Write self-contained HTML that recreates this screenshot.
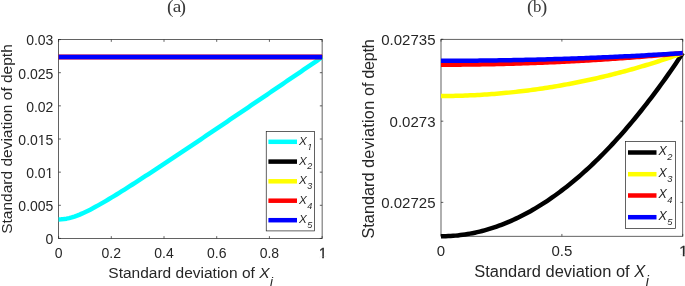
<!DOCTYPE html>
<html><head><meta charset="utf-8"><title>Figure</title>
<style>
html,body{margin:0;padding:0;background:#fff;}
body{width:685px;height:286px;overflow:hidden;}
svg{display:block;}
text{font-family:"Liberation Sans",Arial,Helvetica,sans-serif;fill:#262626;}
.ttl{font-family:"Liberation Serif","Times New Roman",serif;fill:#3a3a3a;}
.it{font-style:italic;}
</style></head><body>
<svg width="685" height="286" viewBox="0 0 685 286">
<rect x="0" y="0" width="685" height="286" fill="#ffffff"/>

<g>
<rect x="58.60" y="39.55" width="263.52" height="198.90" fill="none" stroke="#262626" stroke-width="0.72"/>
<path d="M58.60 238.45v-2.30 M58.60 39.55v2.30 M111.30 238.45v-2.30 M111.30 39.55v2.30 M164.01 238.45v-2.30 M164.01 39.55v2.30 M216.71 238.45v-2.30 M216.71 39.55v2.30 M269.42 238.45v-2.30 M269.42 39.55v2.30 M322.12 238.45v-2.30 M322.12 39.55v2.30 M58.60 238.45h2.30 M322.12 238.45h-2.30 M58.60 205.30h2.30 M322.12 205.30h-2.30 M58.60 172.15h2.30 M322.12 172.15h-2.30 M58.60 139.00h2.30 M322.12 139.00h-2.30 M58.60 105.85h2.30 M322.12 105.85h-2.30 M58.60 72.70h2.30 M322.12 72.70h-2.30 M58.60 39.55h2.30 M322.12 39.55h-2.30 " stroke="#262626" stroke-width="0.72" fill="none"/>
<polyline points="58.60,219.42 61.24,219.34 63.87,219.08 66.51,218.67 69.14,218.10 71.78,217.40 74.41,216.56 77.05,215.62 79.68,214.57 82.32,213.44 84.95,212.24 87.59,210.97 90.22,209.64 92.86,208.26 95.49,206.84 98.13,205.39 100.76,203.90 103.40,202.38 106.03,200.83 108.67,199.27 111.30,197.68 113.94,196.08 116.57,194.46 119.21,192.83 121.84,191.19 124.48,189.53 127.12,187.87 129.75,186.19 132.39,184.51 135.02,182.82 137.66,181.12 140.29,179.42 142.93,177.71 145.56,175.99 148.20,174.27 150.83,172.55 153.47,170.82 156.10,169.09 158.74,167.36 161.37,165.62 164.01,163.88 166.64,162.13 169.28,160.39 171.91,158.64 174.55,156.88 177.18,155.13 179.82,153.37 182.45,151.62 185.09,149.86 187.72,148.09 190.36,146.33 193.00,144.57 195.63,142.80 198.27,141.03 200.90,139.27 203.54,137.50 206.17,135.73 208.81,133.95 211.44,132.18 214.08,130.41 216.71,128.63 219.35,126.86 221.98,125.08 224.62,123.30 227.25,121.52 229.89,119.74 232.52,117.96 235.16,116.18 237.79,114.40 240.43,112.62 243.06,110.84 245.70,109.06 248.33,107.27 250.97,105.49 253.60,103.71 256.24,101.92 258.88,100.14 261.51,98.35 264.15,96.56 266.78,94.78 269.42,92.99 272.05,91.20 274.69,89.41 277.32,87.63 279.96,85.84 282.59,84.05 285.23,82.26 287.86,80.47 290.50,78.68 293.13,76.89 295.77,75.10 298.40,73.31 301.04,71.52 303.67,69.73 306.31,67.94 308.94,66.15 311.58,64.35 314.21,62.56 316.85,60.77 319.48,58.98 322.12,57.19" fill="none" stroke="#00ffff" stroke-width="4.5" stroke-linejoin="round" stroke-linecap="butt"/>
<line x1="58.60" y1="57.00" x2="322.12" y2="57.00" stroke="#000000" stroke-width="4.0"/>
<line x1="58.60" y1="57.00" x2="322.12" y2="57.00" stroke="#ffff00" stroke-width="4.0"/>
<line x1="58.60" y1="57.00" x2="322.12" y2="57.00" stroke="#ff0000" stroke-width="5.0"/>
<line x1="58.60" y1="57.00" x2="322.12" y2="57.00" stroke="#0000ff" stroke-width="4.7"/>
<text x="58.60" y="257.60" font-size="14" text-anchor="middle">0</text>

<text x="111.30" y="257.60" font-size="14" text-anchor="middle">0.2</text>

<text x="164.01" y="257.60" font-size="14" text-anchor="middle">0.4</text>

<text x="216.71" y="257.60" font-size="14" text-anchor="middle">0.6</text>

<text x="269.42" y="257.60" font-size="14" text-anchor="middle">0.8</text>

<text x="322.82" y="257.60" font-size="14" text-anchor="middle" stroke="#262626" stroke-width="0.3">1</text>
<rect x="319.35" y="256.20" width="2.87" height="3.08" fill="#fff"/><rect x="323.86" y="256.20" width="3.15" height="3.08" fill="#fff"/>
<text x="53.40" y="244.35" font-size="14" text-anchor="end">0</text>

<text x="53.40" y="211.20" font-size="14" text-anchor="end">0.005</text>

<text x="53.40" y="178.05" font-size="14" text-anchor="end">0.01</text>
<rect x="46.04" y="176.65" width="2.87" height="3.08" fill="#fff"/><rect x="50.54" y="176.65" width="3.15" height="3.08" fill="#fff"/>
<text x="53.40" y="144.90" font-size="14" text-anchor="end">0.015</text>
<rect x="38.25" y="143.50" width="2.87" height="3.08" fill="#fff"/><rect x="42.76" y="143.50" width="3.15" height="3.08" fill="#fff"/>
<text x="53.40" y="111.75" font-size="14" text-anchor="end">0.02</text>

<text x="53.40" y="78.60" font-size="14" text-anchor="end">0.025</text>

<text x="53.40" y="45.45" font-size="14" text-anchor="end">0.03</text>

<text x="190.70" y="277.60" font-size="15.5" text-anchor="middle">Standard deviation of <tspan class="it">X</tspan><tspan class="it" font-size="13.4" dx="0.6" dy="8.6">i</tspan></text>
<text transform="translate(12.1 139) rotate(-90)" font-size="15.5" text-anchor="middle">Standard deviation of depth</text>
<rect x="266.25" y="131.50" width="48.25" height="99.40" fill="#fff" stroke="#262626" stroke-width="0.72"/>
<line x1="268.40" y1="141.80" x2="297.00" y2="141.80" stroke="#00ffff" stroke-width="4.5"/>
<text class="it" x="299.10" y="144.80" font-size="11.6">X<tspan font-size="9.0" dx="0.5" dy="4.8">1</tspan></text>
<rect x="307.07" y="148.88" width="2.02" height="1.08" fill="#fff"/><rect x="310.13" y="148.88" width="1.98" height="1.08" fill="#fff"/>
<line x1="268.40" y1="161.60" x2="297.00" y2="161.60" stroke="#000000" stroke-width="4.5"/>
<text class="it" x="299.10" y="164.60" font-size="11.6">X<tspan font-size="9.0" dx="0.5" dy="4.8">2</tspan></text>
<line x1="268.40" y1="181.30" x2="297.00" y2="181.30" stroke="#ffff00" stroke-width="4.5"/>
<text class="it" x="299.10" y="184.30" font-size="11.6">X<tspan font-size="9.0" dx="0.5" dy="4.8">3</tspan></text>
<line x1="268.40" y1="200.70" x2="297.00" y2="200.70" stroke="#ff0000" stroke-width="4.5"/>
<text class="it" x="299.10" y="203.70" font-size="11.6">X<tspan font-size="9.0" dx="0.5" dy="4.8">4</tspan></text>
<line x1="268.40" y1="220.20" x2="297.00" y2="220.20" stroke="#0000ff" stroke-width="4.5"/>
<text class="it" x="299.10" y="223.20" font-size="11.6">X<tspan font-size="9.0" dx="0.5" dy="4.8">5</tspan></text>
<text class="ttl" y="13.1" font-size="19.5"><tspan x="166.9">(</tspan><tspan x="172.7" font-size="17.2" dy="-0.8" textLength="8.6" lengthAdjust="spacingAndGlyphs">a</tspan><tspan x="179.6" dy="0.8">)</tspan></text>
</g>
<g>
<rect x="441.00" y="39.30" width="241.75" height="196.95" fill="none" stroke="#262626" stroke-width="0.72"/>
<path d="M441.00 236.25v-2.30 M441.00 39.30v2.30 M561.88 236.25v-2.30 M561.88 39.30v2.30 M682.75 236.25v-2.30 M682.75 39.30v2.30 M441.00 39.30h2.30 M682.75 39.30h-2.30 M441.00 121.20h2.30 M682.75 121.20h-2.30 M441.00 202.40h2.30 M682.75 202.40h-2.30 " stroke="#262626" stroke-width="0.72" fill="none"/>
<polyline points="441.00,236.29 443.42,236.27 445.83,236.22 448.25,236.12 450.67,236.00 453.09,235.83 455.50,235.63 457.92,235.39 460.34,235.11 462.76,234.80 465.18,234.45 467.59,234.07 470.01,233.65 472.43,233.19 474.85,232.69 477.26,232.16 479.68,231.59 482.10,230.99 484.51,230.34 486.93,229.66 489.35,228.95 491.77,228.20 494.19,227.41 496.60,226.58 499.02,225.72 501.44,224.82 503.86,223.88 506.27,222.91 508.69,221.90 511.11,220.86 513.52,219.77 515.94,218.65 518.36,217.50 520.78,216.30 523.20,215.08 525.61,213.81 528.03,212.51 530.45,211.17 532.87,209.79 535.28,208.38 537.70,206.93 540.12,205.44 542.53,203.92 544.95,202.36 547.37,200.77 549.79,199.14 552.21,197.47 554.62,195.76 557.04,194.02 559.46,192.24 561.88,190.42 564.29,188.57 566.71,186.68 569.13,184.76 571.55,182.80 573.96,180.80 576.38,178.76 578.80,176.69 581.22,174.59 583.63,172.44 586.05,170.26 588.47,168.04 590.88,165.79 593.30,163.50 595.72,161.17 598.14,158.81 600.56,156.41 602.97,153.97 605.39,151.50 607.81,148.99 610.23,146.44 612.64,143.86 615.06,141.24 617.48,138.58 619.89,135.89 622.31,133.16 624.73,130.40 627.15,127.59 629.57,124.76 631.98,121.88 634.40,118.97 636.82,116.02 639.24,113.04 641.65,110.02 644.07,106.96 646.49,103.87 648.90,100.74 651.32,97.58 653.74,94.37 656.16,91.14 658.58,87.86 660.99,84.55 663.41,81.20 665.83,77.82 668.25,74.40 670.66,70.94 673.08,67.45 675.50,63.92 677.91,60.36 680.33,56.75 682.75,53.12" fill="none" stroke="#000000" stroke-width="4.5" stroke-linejoin="round" stroke-linecap="butt"/>
<polyline points="441.00,95.99 443.42,95.99 445.83,95.97 448.25,95.95 450.67,95.92 453.09,95.88 455.50,95.84 457.92,95.78 460.34,95.72 462.76,95.64 465.18,95.56 467.59,95.47 470.01,95.37 472.43,95.27 474.85,95.15 477.26,95.03 479.68,94.89 482.10,94.75 484.51,94.60 486.93,94.44 489.35,94.28 491.77,94.10 494.19,93.92 496.60,93.72 499.02,93.52 501.44,93.31 503.86,93.09 506.27,92.86 508.69,92.63 511.11,92.38 513.52,92.13 515.94,91.87 518.36,91.60 520.78,91.32 523.20,91.03 525.61,90.74 528.03,90.43 530.45,90.12 532.87,89.80 535.28,89.47 537.70,89.13 540.12,88.78 542.53,88.43 544.95,88.06 547.37,87.69 549.79,87.31 552.21,86.92 554.62,86.52 557.04,86.11 559.46,85.69 561.88,85.27 564.29,84.84 566.71,84.39 569.13,83.94 571.55,83.49 573.96,83.02 576.38,82.54 578.80,82.06 581.22,81.56 583.63,81.06 586.05,80.55 588.47,80.03 590.88,79.51 593.30,78.97 595.72,78.43 598.14,77.87 600.56,77.31 602.97,76.74 605.39,76.16 607.81,75.57 610.23,74.98 612.64,74.37 615.06,73.76 617.48,73.14 619.89,72.51 622.31,71.87 624.73,71.22 627.15,70.57 629.57,69.90 631.98,69.23 634.40,68.55 636.82,67.86 639.24,67.16 641.65,66.45 644.07,65.73 646.49,65.01 648.90,64.28 651.32,63.54 653.74,62.79 656.16,62.03 658.58,61.26 660.99,60.48 663.41,59.70 665.83,58.91 668.25,58.10 670.66,57.29 673.08,56.48 675.50,55.65 677.91,54.81 680.33,53.97 682.75,53.12" fill="none" stroke="#ffff00" stroke-width="4.5" stroke-linejoin="round" stroke-linecap="butt"/>
<polyline points="441.00,64.71 443.42,64.71 445.83,64.70 448.25,64.70 450.67,64.69 453.09,64.68 455.50,64.66 457.92,64.65 460.34,64.63 462.76,64.61 465.18,64.59 467.59,64.57 470.01,64.54 472.43,64.51 474.85,64.48 477.26,64.45 479.68,64.41 482.10,64.37 484.51,64.33 486.93,64.29 489.35,64.24 491.77,64.20 494.19,64.15 496.60,64.09 499.02,64.04 501.44,63.98 503.86,63.92 506.27,63.86 508.69,63.80 511.11,63.73 513.52,63.66 515.94,63.59 518.36,63.52 520.78,63.44 523.20,63.37 525.61,63.29 528.03,63.20 530.45,63.12 532.87,63.03 535.28,62.94 537.70,62.85 540.12,62.76 542.53,62.66 544.95,62.56 547.37,62.46 549.79,62.36 552.21,62.25 554.62,62.15 557.04,62.04 559.46,61.92 561.88,61.81 564.29,61.69 566.71,61.57 569.13,61.45 571.55,61.33 573.96,61.20 576.38,61.07 578.80,60.94 581.22,60.81 583.63,60.67 586.05,60.53 588.47,60.39 590.88,60.25 593.30,60.11 595.72,59.96 598.14,59.81 600.56,59.66 602.97,59.50 605.39,59.35 607.81,59.19 610.23,59.03 612.64,58.86 615.06,58.70 617.48,58.53 619.89,58.36 622.31,58.19 624.73,58.01 627.15,57.83 629.57,57.65 631.98,57.47 634.40,57.29 636.82,57.10 639.24,56.91 641.65,56.72 644.07,56.53 646.49,56.33 648.90,56.13 651.32,55.93 653.74,55.73 656.16,55.53 658.58,55.32 660.99,55.11 663.41,54.90 665.83,54.68 668.25,54.47 670.66,54.25 673.08,54.02 675.50,53.80 677.91,53.58 680.33,53.35 682.75,53.12" fill="none" stroke="#ff0000" stroke-width="4.5" stroke-linejoin="round" stroke-linecap="butt"/>
<polyline points="441.00,60.80 443.42,60.80 445.83,60.80 448.25,60.79 450.67,60.79 453.09,60.78 455.50,60.77 457.92,60.76 460.34,60.75 462.76,60.74 465.18,60.72 467.59,60.71 470.01,60.69 472.43,60.67 474.85,60.65 477.26,60.63 479.68,60.60 482.10,60.58 484.51,60.55 486.93,60.52 489.35,60.49 491.77,60.46 494.19,60.43 496.60,60.39 499.02,60.36 501.44,60.32 503.86,60.28 506.27,60.24 508.69,60.20 511.11,60.15 513.52,60.11 515.94,60.06 518.36,60.01 520.78,59.96 523.20,59.91 525.61,59.86 528.03,59.80 530.45,59.75 532.87,59.69 535.28,59.63 537.70,59.57 540.12,59.51 542.53,59.44 544.95,59.38 547.37,59.31 549.79,59.24 552.21,59.17 554.62,59.10 557.04,59.03 559.46,58.96 561.88,58.88 564.29,58.80 566.71,58.72 569.13,58.64 571.55,58.56 573.96,58.48 576.38,58.39 578.80,58.30 581.22,58.22 583.63,58.13 586.05,58.03 588.47,57.94 590.88,57.85 593.30,57.75 595.72,57.65 598.14,57.55 600.56,57.45 602.97,57.35 605.39,57.25 607.81,57.14 610.23,57.03 612.64,56.93 615.06,56.82 617.48,56.71 619.89,56.59 622.31,56.48 624.73,56.36 627.15,56.24 629.57,56.13 631.98,56.00 634.40,55.88 636.82,55.76 639.24,55.63 641.65,55.51 644.07,55.38 646.49,55.25 648.90,55.12 651.32,54.98 653.74,54.85 656.16,54.71 658.58,54.58 660.99,54.44 663.41,54.30 665.83,54.15 668.25,54.01 670.66,53.87 673.08,53.72 675.50,53.57 677.91,53.42 680.33,53.27 682.75,53.12" fill="none" stroke="#0000ff" stroke-width="4.5" stroke-linejoin="round" stroke-linecap="butt"/>
<text x="441.00" y="255.80" font-size="15.0" text-anchor="middle">0</text>

<text x="561.88" y="255.80" font-size="15.0" text-anchor="middle">0.5</text>

<text x="683.45" y="255.80" font-size="15.0" text-anchor="middle" stroke="#262626" stroke-width="0.3">1</text>
<rect x="679.73" y="254.30" width="3.07" height="3.30" fill="#fff"/><rect x="684.56" y="254.30" width="3.38" height="3.30" fill="#fff"/>
<text x="435.50" y="44.65" font-size="15.0" text-anchor="end">0.02735</text>
<text x="435.50" y="126.55" font-size="15.0" text-anchor="end">0.0273</text>
<text x="435.50" y="207.75" font-size="15.0" text-anchor="end">0.02725</text>
<text x="561.60" y="277.30" font-size="16.45" text-anchor="middle">Standard deviation of <tspan class="it">X</tspan><tspan class="it" font-size="14.2" dx="0.6" dy="9">i</tspan></text>
<text transform="translate(373.7 139) rotate(-90)" font-size="16.3" text-anchor="middle">Standard <tspan style="letter-spacing:0.25px">deviation</tspan> of <tspan dx="-0.8" style="letter-spacing:-0.3px">depth</tspan></text>
<rect x="625.60" y="141.50" width="49.80" height="87.00" fill="#fff" stroke="#262626" stroke-width="0.72"/>
<line x1="628.00" y1="152.50" x2="656.50" y2="152.50" stroke="#000000" stroke-width="4.5"/>
<text class="it" x="658.60" y="155.00" font-size="12.4">X<tspan font-size="9.3" dx="0.5" dy="5.0">2</tspan></text>
<line x1="628.00" y1="174.20" x2="656.50" y2="174.20" stroke="#ffff00" stroke-width="4.5"/>
<text class="it" x="658.60" y="176.70" font-size="12.4">X<tspan font-size="9.3" dx="0.5" dy="5.0">3</tspan></text>
<line x1="628.00" y1="195.50" x2="656.50" y2="195.50" stroke="#ff0000" stroke-width="4.5"/>
<text class="it" x="658.60" y="198.00" font-size="12.4">X<tspan font-size="9.3" dx="0.5" dy="5.0">4</tspan></text>
<line x1="628.00" y1="217.20" x2="656.50" y2="217.20" stroke="#0000ff" stroke-width="4.5"/>
<text class="it" x="658.60" y="219.70" font-size="12.4">X<tspan font-size="9.3" dx="0.5" dy="5.0">5</tspan></text>
<text class="ttl" y="13.1" font-size="19.5"><tspan x="526.9">(</tspan><tspan x="533.0" font-size="17.4" dy="-0.8" textLength="8.4" lengthAdjust="spacingAndGlyphs">b</tspan><tspan x="540.8" dy="0.8">)</tspan></text>
</g>
</svg></body></html>
